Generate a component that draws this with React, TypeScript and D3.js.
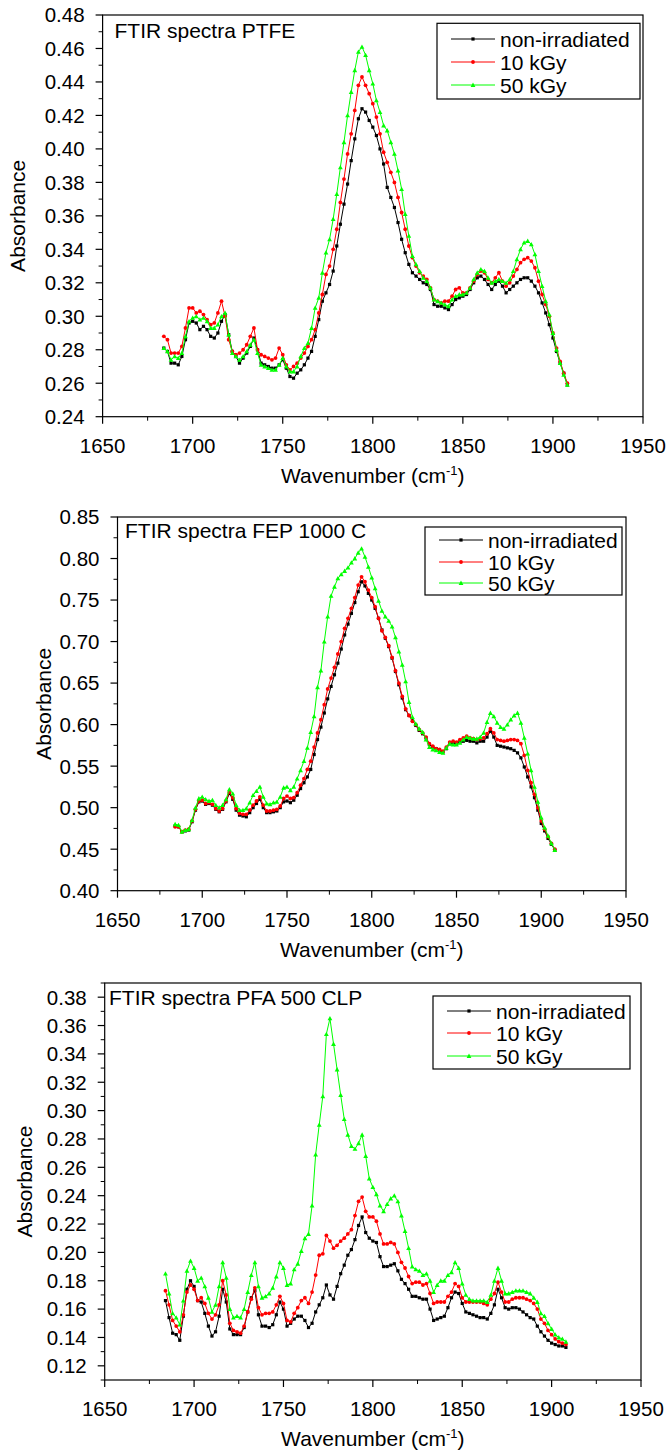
import React from "react";
import * as d3 from "d3";

// ---------- data ----------
const wavenumbers: number[] = d3.range(1684, 1909, 2); // 113 points, cm-1
const xTickValues = [1650, 1700, 1750, 1800, 1850, 1900, 1950];
const legendLabels = ["non-irradiated", "10 kGy", "50 kGy"];
const seriesColors = ["#000000", "#ff0000", "#00ff00"];
const titles = ["FTIR spectra PTFE", "FTIR spectra FEP 1000 C", "FTIR spectra PFA 500 CLP"];

const ptfeTicks = [0.24, 0.26, 0.28, 0.3, 0.32, 0.34, 0.36, 0.38, 0.4, 0.42, 0.44, 0.46, 0.48];
const fepTicks = [0.4, 0.45, 0.5, 0.55, 0.6, 0.65, 0.7, 0.75, 0.8, 0.85];
const pfaTicks = [0.12, 0.14, 0.16, 0.18, 0.2, 0.22, 0.24, 0.26, 0.28, 0.3, 0.32, 0.34, 0.36, 0.38];

const ptfeNon = [
  0.281, 0.279, 0.272, 0.272, 0.271, 0.276, 0.286, 0.296, 0.297, 0.296,
  0.292, 0.294, 0.292, 0.288, 0.287, 0.290, 0.297, 0.301, 0.289, 0.279,
  0.276, 0.272, 0.275, 0.278, 0.282, 0.287, 0.280, 0.272, 0.271, 0.270,
  0.269, 0.269, 0.271, 0.274, 0.269, 0.264, 0.263, 0.266, 0.268, 0.271,
  0.275, 0.279, 0.288, 0.298, 0.309, 0.314, 0.319, 0.327, 0.342, 0.355,
  0.367, 0.379, 0.393, 0.406, 0.418, 0.424, 0.422, 0.417, 0.413, 0.408,
  0.400, 0.391, 0.377, 0.371, 0.365, 0.356, 0.346, 0.338, 0.331, 0.326,
  0.324, 0.322, 0.320, 0.319, 0.316, 0.307, 0.306, 0.306, 0.305, 0.304,
  0.307, 0.310, 0.311, 0.312, 0.313, 0.316, 0.320, 0.323, 0.324, 0.322,
  0.319, 0.316, 0.319, 0.321, 0.318, 0.314, 0.316, 0.318, 0.320, 0.322,
  0.323, 0.323, 0.321, 0.318, 0.314, 0.308, 0.302, 0.295, 0.287, 0.279,
  0.272, 0.266, 0.259,
];
const ptfe10 = [
  0.288, 0.286, 0.278, 0.278, 0.278, 0.282, 0.293, 0.305, 0.305, 0.302,
  0.303, 0.301, 0.298, 0.295, 0.296, 0.302, 0.309, 0.300, 0.286, 0.279,
  0.277, 0.278, 0.280, 0.283, 0.288, 0.293, 0.280, 0.277, 0.276, 0.275,
  0.274, 0.275, 0.281, 0.277, 0.271, 0.268, 0.270, 0.272, 0.275, 0.278,
  0.282, 0.286, 0.292, 0.302, 0.313, 0.325, 0.330, 0.340, 0.352, 0.368,
  0.382, 0.397, 0.409, 0.423, 0.438, 0.443, 0.438, 0.433, 0.427, 0.419,
  0.409, 0.398, 0.392, 0.386, 0.380, 0.371, 0.362, 0.352, 0.342, 0.335,
  0.330, 0.326, 0.324, 0.322, 0.317, 0.310, 0.309, 0.308, 0.309, 0.309,
  0.312, 0.316, 0.317, 0.314, 0.314, 0.317, 0.321, 0.325, 0.327, 0.326,
  0.322, 0.320, 0.323, 0.326, 0.321, 0.318, 0.320, 0.324, 0.328, 0.332,
  0.334, 0.335, 0.333, 0.329, 0.321, 0.313, 0.307, 0.300, 0.290, 0.281,
  0.273, 0.266, 0.260,
];
const ptfe50 = [
  0.281, 0.279, 0.274, 0.276, 0.275, 0.278, 0.288, 0.297, 0.299, 0.300,
  0.298, 0.299, 0.297, 0.293, 0.293, 0.295, 0.300, 0.302, 0.289, 0.278,
  0.276, 0.274, 0.276, 0.279, 0.283, 0.286, 0.278, 0.271, 0.270, 0.269,
  0.268, 0.268, 0.271, 0.275, 0.270, 0.267, 0.267, 0.270, 0.276, 0.281,
  0.284, 0.293, 0.305, 0.311, 0.326, 0.338, 0.346, 0.358, 0.373, 0.389,
  0.404, 0.420, 0.434, 0.447, 0.458, 0.461, 0.456, 0.447, 0.439, 0.429,
  0.422, 0.414, 0.411, 0.404, 0.397, 0.387, 0.376, 0.361, 0.348, 0.336,
  0.331, 0.327, 0.323, 0.321, 0.317, 0.310, 0.309, 0.308, 0.307, 0.306,
  0.310, 0.312, 0.313, 0.313, 0.314, 0.317, 0.322, 0.326, 0.328, 0.327,
  0.323, 0.320, 0.321, 0.322, 0.321, 0.320, 0.322, 0.327, 0.334, 0.340,
  0.344, 0.345, 0.343, 0.337, 0.327, 0.318, 0.309, 0.301, 0.290, 0.280,
  0.272, 0.265, 0.259,
];

const fepNon = [
  0.478, 0.477, 0.471, 0.472, 0.473, 0.483, 0.497, 0.507, 0.508, 0.504,
  0.505, 0.503, 0.498, 0.495, 0.498, 0.507, 0.517, 0.510, 0.497, 0.491,
  0.490, 0.489, 0.494, 0.500, 0.505, 0.510, 0.500, 0.494, 0.494, 0.495,
  0.496, 0.500, 0.507, 0.508, 0.506, 0.509, 0.515, 0.523, 0.530, 0.537,
  0.546, 0.564, 0.582, 0.597, 0.614, 0.631, 0.646, 0.660, 0.674, 0.691,
  0.708, 0.721, 0.734, 0.747, 0.760, 0.772, 0.767, 0.758, 0.750, 0.740,
  0.728, 0.714, 0.704, 0.694, 0.680, 0.664, 0.648, 0.632, 0.618, 0.611,
  0.605, 0.599, 0.593, 0.589, 0.584, 0.576, 0.573, 0.571, 0.569, 0.567,
  0.571, 0.577, 0.578, 0.577, 0.579, 0.580, 0.581, 0.580, 0.580, 0.578,
  0.580, 0.580, 0.585, 0.592, 0.585, 0.575, 0.574, 0.573, 0.572, 0.571,
  0.569, 0.566, 0.560, 0.549, 0.537, 0.525, 0.512, 0.497, 0.481, 0.472,
  0.463, 0.456, 0.449,
];
const fep10 = [
  0.477, 0.477, 0.471, 0.473, 0.474, 0.484, 0.498, 0.508, 0.509, 0.505,
  0.506, 0.504, 0.499, 0.496, 0.499, 0.508, 0.519, 0.512, 0.499, 0.493,
  0.492, 0.492, 0.497, 0.503, 0.508, 0.513, 0.503, 0.496, 0.496, 0.497,
  0.498, 0.502, 0.511, 0.514, 0.511, 0.512, 0.518, 0.527, 0.535, 0.546,
  0.556, 0.573, 0.590, 0.606, 0.624, 0.643, 0.656, 0.669, 0.685, 0.700,
  0.716, 0.728, 0.740, 0.753, 0.768, 0.778, 0.772, 0.762, 0.753, 0.742,
  0.728, 0.713, 0.705, 0.695, 0.681, 0.665, 0.650, 0.634, 0.619, 0.611,
  0.604, 0.600, 0.594, 0.590, 0.585, 0.577, 0.574, 0.571, 0.570, 0.568,
  0.573, 0.579, 0.580, 0.579, 0.582, 0.584, 0.586, 0.584, 0.583, 0.582,
  0.583, 0.584, 0.589, 0.595, 0.590, 0.582, 0.581, 0.580, 0.581, 0.582,
  0.582, 0.581, 0.577, 0.563, 0.545, 0.530, 0.516, 0.500, 0.484, 0.474,
  0.465, 0.457, 0.450,
];
const fep50 = [
  0.480, 0.479, 0.471, 0.473, 0.474, 0.485, 0.500, 0.511, 0.513, 0.510,
  0.508, 0.509, 0.503, 0.500, 0.503, 0.510, 0.522, 0.517, 0.503, 0.497,
  0.497, 0.499, 0.506, 0.515, 0.520, 0.525, 0.513, 0.505, 0.504, 0.506,
  0.507, 0.513, 0.524, 0.525, 0.521, 0.525, 0.535, 0.545, 0.556, 0.572,
  0.591, 0.610, 0.645, 0.665, 0.700, 0.730, 0.755, 0.766, 0.776, 0.781,
  0.785, 0.789, 0.795, 0.800, 0.807, 0.812, 0.802, 0.790, 0.777, 0.764,
  0.749, 0.737, 0.730, 0.725, 0.718, 0.705, 0.688, 0.672, 0.652, 0.627,
  0.609, 0.601, 0.595, 0.591, 0.582, 0.573, 0.570, 0.569, 0.567, 0.566,
  0.572, 0.577, 0.576, 0.576, 0.578, 0.582, 0.585, 0.584, 0.583, 0.583,
  0.585, 0.590, 0.603, 0.614, 0.610, 0.602, 0.597, 0.595, 0.600, 0.606,
  0.611, 0.614, 0.602, 0.584, 0.565, 0.545, 0.525, 0.507, 0.488, 0.476,
  0.466, 0.457, 0.449,
];

const pfaNon = [
  0.166, 0.154, 0.143, 0.142, 0.138, 0.155, 0.174, 0.180, 0.176, 0.166,
  0.165, 0.157, 0.148, 0.141, 0.144, 0.155, 0.174, 0.165, 0.146, 0.142,
  0.142, 0.142, 0.147, 0.158, 0.168, 0.173, 0.156, 0.148, 0.148, 0.147,
  0.149, 0.156, 0.165, 0.160, 0.148, 0.150, 0.153, 0.155, 0.155, 0.152,
  0.147, 0.150, 0.158, 0.163, 0.168, 0.177, 0.170, 0.167, 0.176, 0.185,
  0.191, 0.198, 0.202, 0.209, 0.219, 0.225, 0.214, 0.210, 0.208, 0.207,
  0.197, 0.190, 0.190, 0.191, 0.192, 0.187, 0.181, 0.178, 0.174, 0.169,
  0.169, 0.168, 0.167, 0.167, 0.160, 0.152, 0.153, 0.154, 0.155, 0.161,
  0.168, 0.172, 0.171, 0.164, 0.158, 0.157, 0.156, 0.155, 0.154, 0.154,
  0.153, 0.157, 0.163, 0.174, 0.168, 0.161, 0.160, 0.161, 0.161, 0.160,
  0.158, 0.156, 0.154, 0.153, 0.148, 0.144, 0.141, 0.138, 0.136, 0.135,
  0.134, 0.134, 0.133,
];
const pfa10 = [
  0.173, 0.163, 0.152, 0.148, 0.144, 0.156, 0.172, 0.177, 0.174, 0.166,
  0.168, 0.164, 0.157, 0.153, 0.156, 0.163, 0.180, 0.170, 0.150, 0.145,
  0.144, 0.143, 0.148, 0.158, 0.167, 0.175, 0.161, 0.156, 0.157, 0.157,
  0.158, 0.163, 0.169, 0.164, 0.152, 0.151, 0.157, 0.161, 0.166, 0.168,
  0.164, 0.172, 0.184, 0.198, 0.199, 0.212, 0.208, 0.203, 0.205, 0.208,
  0.210, 0.213, 0.216, 0.226, 0.236, 0.239, 0.229, 0.225, 0.225, 0.222,
  0.213, 0.206, 0.206, 0.207, 0.206, 0.200, 0.193, 0.189, 0.183, 0.178,
  0.179, 0.179, 0.177, 0.178, 0.171, 0.164, 0.165, 0.165, 0.165, 0.169,
  0.172, 0.178, 0.176, 0.168, 0.165, 0.165, 0.165, 0.165, 0.165, 0.164,
  0.163, 0.167, 0.171, 0.179, 0.172, 0.165, 0.165, 0.167, 0.168, 0.168,
  0.168, 0.167, 0.166, 0.164, 0.160, 0.153, 0.150, 0.145, 0.142, 0.139,
  0.137, 0.136, 0.135,
];
const pfa50 = [
  0.185, 0.171, 0.157, 0.154, 0.149, 0.166, 0.187, 0.194, 0.189, 0.180,
  0.182, 0.176, 0.168, 0.158, 0.163, 0.176, 0.193, 0.182, 0.160, 0.154,
  0.155, 0.154, 0.160, 0.172, 0.184, 0.193, 0.176, 0.168, 0.169, 0.171,
  0.175, 0.183, 0.193, 0.189, 0.177, 0.178, 0.188, 0.192, 0.201, 0.210,
  0.213, 0.233, 0.269, 0.290, 0.310, 0.354, 0.365, 0.347, 0.329, 0.311,
  0.294, 0.283, 0.275, 0.273, 0.277, 0.283, 0.268, 0.252, 0.246, 0.241,
  0.233, 0.229, 0.234, 0.238, 0.240, 0.236, 0.226, 0.215, 0.203, 0.190,
  0.188, 0.187, 0.184, 0.185, 0.180, 0.172, 0.177, 0.180, 0.180, 0.184,
  0.186, 0.193, 0.189, 0.178, 0.170, 0.167, 0.166, 0.166, 0.166, 0.166,
  0.165, 0.170, 0.180, 0.189, 0.180, 0.171, 0.171, 0.172, 0.173, 0.173,
  0.173, 0.172, 0.171, 0.168, 0.165, 0.157, 0.155, 0.150, 0.146, 0.142,
  0.140, 0.139, 0.137,
];

// ---------- layout ----------
const FONT = "'Liberation Sans', Arial, Helvetica, sans-serif";
const FS = 21;
const TICK_FS = 20.5;

type PanelLayout = {
  left: number; right: number; top: number; bottom: number;
  yDomain: [number, number]; yTicks: number[]; yMinor: number; yFmt: string;
  titleX: number; titleY: number;
  legX: number; legY: number; legW: number; legH: number; legRowY: number[];
  yLabelX: number;
};

const layouts: PanelLayout[] = [
  { left: 102.6, right: 643, top: 15, bottom: 416.7, yDomain: [0.24, 0.48], yTicks: ptfeTicks, yMinor: 0.01, yFmt: ".2f",
    titleX: 114.5, titleY: 38, legX: 437, legY: 23.3, legW: 203, legH: 75.7, legRowY: [39, 62, 85], yLabelX: 25 },
  { left: 117.5, right: 626, top: 517, bottom: 890.7, yDomain: [0.4, 0.85], yTicks: fepTicks, yMinor: 0.025, yFmt: ".2f",
    titleX: 125, titleY: 538, legX: 425, legY: 527, legW: 197, legH: 68, legRowY: [540, 562, 583], yLabelX: 51 },
  { left: 104.7, right: 641, top: 983, bottom: 1380, yDomain: [0.11, 0.39], yTicks: pfaTicks, yMinor: 0.01, yFmt: ".2f",
    titleX: 109, titleY: 1005, legX: 433, legY: 996, legW: 197, legH: 73, legRowY: [1011, 1033, 1056], yLabelX: 32 },
];

const panelSeries = [
  [ptfeNon, ptfe10, ptfe50],
  [fepNon, fep10, fep50],
  [pfaNon, pfa10, pfa50],
];

function Marker({ kind, x, y, color }: { kind: number; x: number; y: number; color: string }) {
  if (kind === 0) return <rect x={x - 1.6} y={y - 1.6} width={3.2} height={3.2} fill={color} />;
  if (kind === 1) return <circle cx={x} cy={y} r={1.9} fill={color} />;
  const s = 2.4;
  return <path d={`M${x},${y - s}L${x + s},${y + s * 0.8}L${x - s},${y + s * 0.8}Z`} fill={color} />;
}

function Panel({ idx }: { idx: number }) {
  const L = layouts[idx];
  const x = d3.scaleLinear().domain([1650, 1950]).range([L.left, L.right]);
  const y = d3.scaleLinear().domain(L.yDomain).range([L.bottom, L.top]);
  const fmt = d3.format(L.yFmt);
  const xMinor = d3.range(1675, 1950, 50);
  const yMinor = d3.range(L.yDomain[0], L.yDomain[1] + 1e-9, L.yMinor).filter(
    (v) => !L.yTicks.some((t) => Math.abs(t - v) < 1e-6)
  );
  const line = d3.line<number>().x((_, i) => x(wavenumbers[i])).y((d) => y(d));
  const series = panelSeries[idx];
  const cx = (L.left + L.right) / 2;
  const cy = (L.top + L.bottom) / 2;
  return (
    <g fontFamily={FONT} fontSize={FS} fill="#000">
      {series.map((vals, si) => (
        <g key={si}>
          <path d={line(vals) || ""} fill="none" stroke={seriesColors[si]} strokeWidth={1} />
          {vals.map((v, i) => (
            <Marker key={i} kind={si} x={x(wavenumbers[i])} y={y(v)} color={seriesColors[si]} />
          ))}
        </g>
      ))}
      <rect x={L.left} y={L.top} width={L.right - L.left} height={L.bottom - L.top} fill="none" stroke="#000" strokeWidth={1.2} />
      {xTickValues.map((t) => (
        <g key={t}>
          <line x1={x(t)} x2={x(t)} y1={L.bottom} y2={L.bottom + 7} stroke="#000" strokeWidth={1.2} />
          <text x={x(t)} y={L.bottom + 36} textAnchor="middle" fontSize={TICK_FS}>{t}</text>
        </g>
      ))}
      {xMinor.map((t) => (
        <line key={t} x1={x(t)} x2={x(t)} y1={L.bottom} y2={L.bottom + 4} stroke="#000" strokeWidth={1} />
      ))}
      {L.yTicks.map((t) => (
        <g key={t}>
          <line x1={L.left - 7} x2={L.left} y1={y(t)} y2={y(t)} stroke="#000" strokeWidth={1.2} />
          <text x={L.left - 18} y={y(t)} dy="0.36em" textAnchor="end" fontSize={TICK_FS}>{fmt(t)}</text>
        </g>
      ))}
      {yMinor.map((t, i) => (
        <line key={i} x1={L.left - 4} x2={L.left} y1={y(t)} y2={y(t)} stroke="#000" strokeWidth={1} />
      ))}
      <text x={cx} y={L.bottom + 66} textAnchor="middle">
        Wavenumber (cm<tspan dy={-8} fontSize={13}>-1</tspan><tspan dy={8}>)</tspan>
      </text>
      <text transform={`translate(${L.yLabelX},${cy}) rotate(-90)`} textAnchor="middle">Absorbance</text>
      <text x={L.titleX} y={L.titleY}>{titles[idx]}</text>
      <rect x={L.legX} y={L.legY} width={L.legW} height={L.legH} fill="#fff" stroke="#000" strokeWidth={1.2} />
      {legendLabels.map((lab, si) => {
        const ry = L.legRowY[si];
        const x1 = L.legX + 14;
        const x2 = L.legX + 58;
        return (
          <g key={lab}>
            <line x1={x1} x2={x2} y1={ry} y2={ry} stroke={seriesColors[si]} strokeWidth={1} />
            <Marker kind={si} x={(x1 + x2) / 2} y={ry} color={seriesColors[si]} />
            <text x={L.legX + 63} y={ry} dy="0.36em">{lab}</text>
          </g>
        );
      })}
    </g>
  );
}

export default function App() {
  return (
    <svg width={667} height={1451} style={{ position: "absolute", left: 0, top: 0, background: "#fff" }}>
      <rect x={0} y={0} width={667} height={1451} fill="#fff" />
      {[0, 1, 2].map((i) => (
        <Panel key={i} idx={i} />
      ))}
    </svg>
  );
}
